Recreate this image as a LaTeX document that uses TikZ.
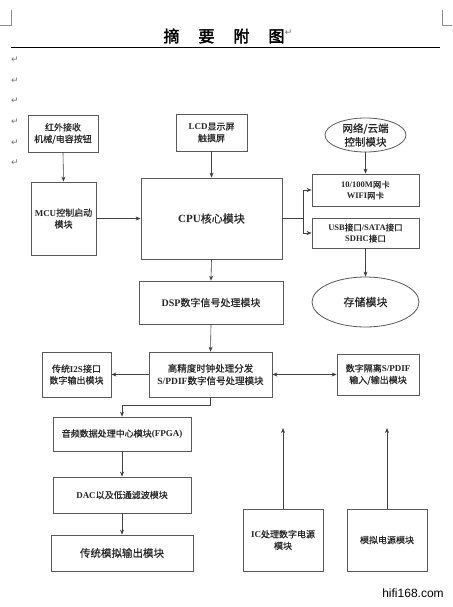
\documentclass[tikz,border=0pt]{standalone}
\usepackage{fontspec}
\setmainfont{Liberation Serif}
\newfontfamily\cjk[FakeBold=0.5]{Noto Sans CJK SC}
\newfontfamily\cjktitle[FakeBold=2.5]{Noto Sans CJK SC}
\newfontfamily\dv{DejaVu Sans}
\newfontfamily\wm{Liberation Sans}
\usetikzlibrary{arrows.meta,shapes.geometric}
\newcommand\zh[1]{{\cjk #1}}
\newcommand\la[1]{{\bfseries #1}}
\newcommand\fs[1]{\fontsize{#1pt}{\dimexpr #1pt*13/10\relax}\selectfont}
\tikzset{
  box/.style={draw=black!65, line width=0.8pt, inner sep=1pt, align=center, text=black!85},
  oval/.style={ellipse, draw=black!65, line width=0.8pt, inner sep=0pt, align=center, text=black!85},
  arr/.style={draw=black!75, line width=0.6pt, -{Stealth[length=5pt,width=4pt]}},
  darr/.style={draw=black!75, line width=0.6pt, {Stealth[length=5pt,width=4pt]}-{Stealth[length=5pt,width=4pt]}},
  ret/.style={text=black!55, font=\dv\fontsize{9}{9}\selectfont, inner sep=0pt},
  cornermark/.style={draw=black!45, line width=0.5pt}
}
\begin{document}
\begin{tikzpicture}[x=1pt,y=-1pt]
\useasboundingbox[fill=white] (0,0) rectangle (452,607);
% corner marks
\draw[cornermark] (11,10) -- (11,25) -- (0,25);
\draw[cornermark] (442,10) -- (442,25) -- (452,25);
% title
\node[inner sep=0pt] (title) at (224,36) {\cjktitle\fontsize{16}{16}\selectfont 摘\hspace{19pt}要\hspace{19pt}附\hspace{19pt}图};
\node[ret, anchor=west] (tret) at ([yshift=3pt]title.east) {↵};
\draw[line width=0.9pt] (11,47) -- (440,47);
% return marks
\foreach \y/\n in {60/r1,81/r2,101/r3,122/r4,143/r5,163/r6}
  \node[ret] (\n) at (15,\y) {↵};
% top row
\node[box, minimum width=70pt, minimum height=37pt, font=\fs{9}] (ir) at (63,133.5) {\zh{红外接收}\\\zh{机械/电容按钮}};
\node[box, minimum width=71pt, minimum height=37pt, font=\fs{9}] (lcd) at (211.5,132.5) {\la{LCD}\zh{显示屏}\\\zh{触摸屏}};
\node[oval, minimum width=81pt, minimum height=34pt, font=\fs{10.5}] (net) at (365.5,135) {\zh{网络/云端}\\\zh{控制模块}};
% second row
\node[box, minimum width=65pt, minimum height=73pt, font=\fs{9}] (mcu) at (63.5,218.5) {\la{MCU}\zh{控制启动}\\\zh{模块}};
\node[box, minimum width=141pt, minimum height=81pt, font=\fs{11}] (cpu) at (211.5,218.5) {\la{CPU}\zh{核心模块}};
\node[box, minimum width=107pt, minimum height=32pt, font=\fs{8.5}] (nic) at (365.5,190) {\la{10/100M}\zh{网卡}\\\la{WIFI}\zh{网卡}};
\node[box, minimum width=107pt, minimum height=30pt, font=\fs{8.5}] (usb) at (365.5,233) {\la{USB}\zh{接口}\la{/SATA}\zh{接口}\\\la{SDHC}\zh{接口}};
% third row
\node[box, minimum width=144pt, minimum height=43pt, font=\fs{10}] (dsp) at (211,302.5) {\la{DSP}\zh{数字信号处理模块}};
\node[oval, minimum width=107pt, minimum height=50pt, font=\fs{11}] (store) at (365.5,302) {\zh{存储模块}};
% fourth row
\node[box, minimum width=69pt, minimum height=45pt, font=\fs{9}] (i2s) at (76.5,374.5) {\zh{传统}\la{I2S}\zh{接口}\\\zh{数字输出模块}};
\node[box, minimum width=123pt, minimum height=45pt, font=\fs{9.5}] (clk) at (210.5,374.5) {\zh{高精度时钟处理分发}\\\la{S/PDIF}\zh{数字信号处理模块}};
\node[box, minimum width=82pt, minimum height=41pt, font=\fs{9}] (spdif) at (378,374.5) {\zh{数字隔离}\la{S/PDIF}\\\zh{输入/输出模块}};
% left column
\node[box, minimum width=138pt, minimum height=34pt, font=\fs{9}] (fpga) at (122,434) {\zh{音频数据处理中心模块}\la{(FPGA)}};
\node[box, minimum width=138pt, minimum height=36pt, font=\fs{9}] (dac) at (122,495) {\la{DAC}\zh{以及低通滤波模块}};
\node[box, minimum width=142pt, minimum height=36pt, font=\fs{10.5}] (ana) at (122,553) {\zh{传统模拟输出模块}};
% power
\node[box, minimum width=80pt, minimum height=62pt, font=\fs{9}] (icp) at (283,540) {\la{IC}\zh{处理数字电源}\\\zh{模块}};
\node[box, minimum width=80pt, minimum height=62pt, font=\fs{9}] (aps) at (387,540) {\zh{模拟电源模块}};
% watermark
\node[font=\wm\fontsize{12}{12}\selectfont, inner sep=0pt] (wmk) at (413,593) {hifi168.com};
% connectors
\draw[arr] (ir.south) -- (mcu.north);
\draw[arr] (lcd.south) -- (cpu.north);
\draw[arr] (net.south) -- (nic.north);
\draw[arr] (mcu.east) -- (cpu.west);
\coordinate (sp) at (303,218.5);
\draw[arr] (cpu.east) -- (sp) |- (nic.west);
\draw[arr] (sp) |- (usb.west);
\draw[arr] (usb.south) -- (store.north);
\draw[arr] (cpu.south) -- (dsp.north);
\draw[arr] (dsp.south) -- (clk.north);
\draw[arr] (clk.west) -- (i2s.east);
\draw[darr] (clk.east) -- (spdif.west);
\coordinate (bend) at (210.5,405);
\draw[arr] (clk.south) -- (bend) -| (fpga.north);
\draw[arr] (fpga.south) -- (dac.north);
\draw[arr] (dac.south) -- (ana.north);
\coordinate (ice) at (283,428);
\coordinate (ape) at (387,428);
\draw[arr] (icp.north) -- (ice);
\draw[arr] (aps.north) -- (ape);
\end{tikzpicture}
\end{document}
